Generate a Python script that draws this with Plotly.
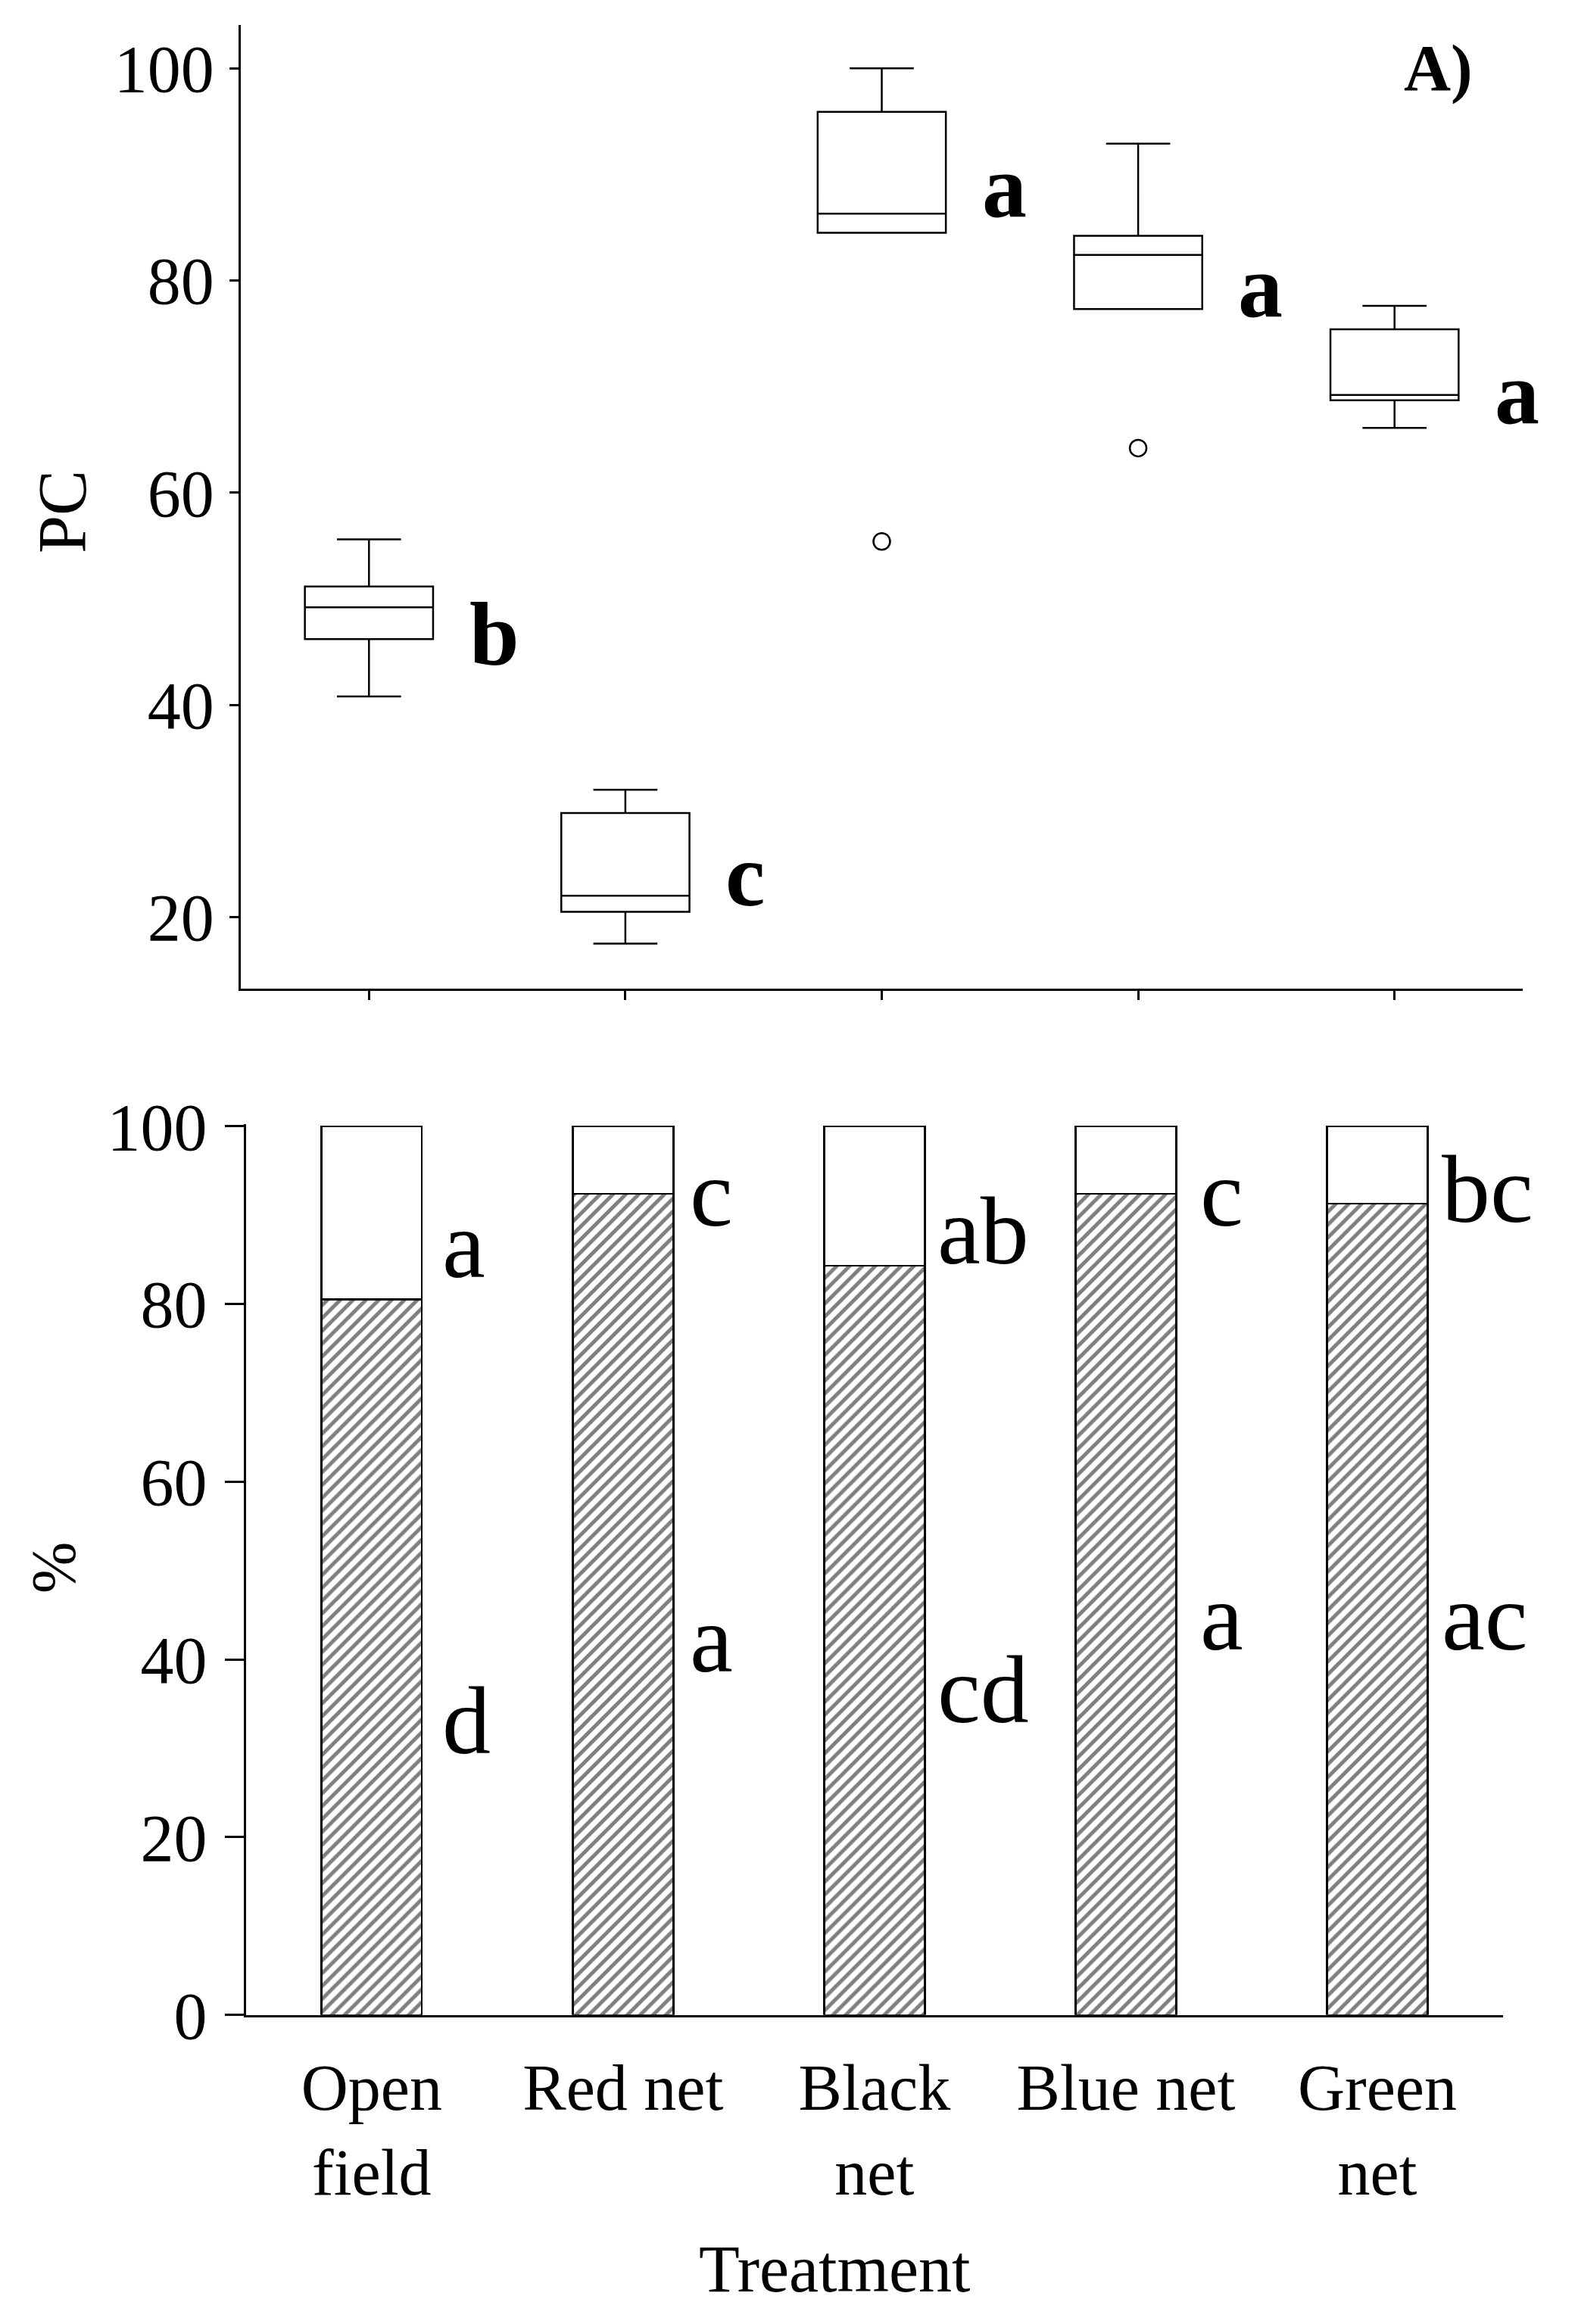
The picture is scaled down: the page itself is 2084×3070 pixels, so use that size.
import plotly.graph_objects as go

# ---- data ----
treatments = ["Open field", "Red net", "Black net", "Blue net", "Green net"]
tick_text = ["Open<br>field", "Red net", "Black<br>net", "Blue net", "Green<br>net"]

# panel A: PC box plots
pc_lower = [40.8, 17.5, 84.5, 77.3, 66.1]
pc_q1 = [46.2, 20.5, 84.5, 77.3, 68.7]
pc_median = [49.2, 22.0, 86.3, 82.4, 69.2]
pc_q3 = [51.15, 29.8, 95.9, 84.2, 75.4]
pc_upper = [55.6, 32.0, 100.0, 92.9, 77.6]
outlier_x = ["Black net", "Blue net"]
outlier_y = [55.4, 64.2]
letters_a = ["b", "c", "a", "a", "a"]

# panel B: stacked percentages (hatched part + open part)
pct_hatched = [80.5, 92.4, 84.3, 92.4, 91.3]
pct_open = [100 - v for v in pct_hatched]
letters_b_open = ["a", "c", "ab", "c", "bc"]
letters_b_hatched = ["d", "a", "cd", "a", "ac"]

# label placement (layout only)
letter_a_y = [46.7, 23.9, 88.85, 79.45, 69.35]
letter_b_open_y = [86.7, 92.5, 88.2, 92.5, 92.9]
letter_b_hatched_y = [33.1, 42.3, 36.6, 44.75, 44.75]
letter_b_dx = [0.275, 0.26, 0.245, 0.29, 0.25]

FONT = "Liberation Serif, Times New Roman, serif"
W, H = 2084, 3070
OFF = 8  # page body margin
LW = 2.5


def px(x):
    return (x - OFF) / W


def py(y):
    return 1 - (y - OFF) / H


fig = go.Figure()

fig.add_trace(go.Box(
    x=treatments, q1=pc_q1, median=pc_median, q3=pc_q3,
    lowerfence=pc_lower, upperfence=pc_upper,
    boxpoints=False, width=0.5, whiskerwidth=0.5,
    fillcolor="white", line=dict(color="black", width=LW),
    xaxis="x", yaxis="y", showlegend=False,
))
fig.add_trace(go.Scatter(
    x=outlier_x, y=outlier_y, mode="markers",
    marker=dict(symbol="circle-open", size=22, color="black", line=dict(width=LW)),
    xaxis="x", yaxis="y", showlegend=False,
))

fig.add_trace(go.Bar(
    x=treatments, y=pct_hatched, width=0.4,
    marker=dict(color="white", line=dict(color="black", width=LW),
                pattern=dict(shape="/", fgcolor="black", bgcolor="white", size=12, solidity=0.42)),
    xaxis="x2", yaxis="y2", showlegend=False,
))
fig.add_trace(go.Bar(
    x=treatments, y=pct_open, width=0.4,
    marker=dict(color="white", line=dict(color="black", width=LW)),
    xaxis="x2", yaxis="y2", showlegend=False,
))

ann = []
for i, t in enumerate(letters_a):
    ann.append(dict(x=i + 0.385, y=letter_a_y[i], xref="x", yref="y", text=t,
                    xanchor="left", yanchor="middle", showarrow=False,
                    font=dict(family=FONT, size=118, color="black", weight="bold")))
for i, t in enumerate(letters_b_open):
    ann.append(dict(x=i + letter_b_dx[i], y=letter_b_open_y[i], xref="x2", yref="y2", text=t,
                    xanchor="left", yanchor="middle", showarrow=False,
                    font=dict(family=FONT, size=128, color="black")))
for i, t in enumerate(letters_b_hatched):
    ann.append(dict(x=i + letter_b_dx[i], y=letter_b_hatched_y[i], xref="x2", yref="y2", text=t,
                    xanchor="left", yanchor="middle", showarrow=False,
                    font=dict(family=FONT, size=128, color="black")))

ann += [
    dict(x=4.17, y=100, xref="x", yref="y", text="A)", showarrow=False,
         xanchor="center", yanchor="middle", font=dict(family=FONT, size=86, color="black", weight="bold")),
    dict(x=4.41, y=100.4, xref="x2", yref="y2", text="B)", showarrow=False,
         xanchor="center", yanchor="middle", font=dict(family=FONT, size=84, color="black")),
    dict(x=px(82), y=py(676), xref="paper", yref="paper", text="PC", textangle=-90,
         showarrow=False, xanchor="center", yanchor="middle", font=dict(family=FONT, size=90, color="black")),
    dict(x=px(70), y=py(2071), xref="paper", yref="paper", text="%", textangle=-90,
         showarrow=False, xanchor="center", yanchor="middle", font=dict(family=FONT, size=82, color="black")),
    dict(x=px(1102), y=py(2997), xref="paper", yref="paper", text="Treatment",
         showarrow=False, xanchor="center", yanchor="middle", font=dict(family=FONT, size=88, color="black")),
]

axis_common = dict(showgrid=False, zeroline=False, showline=True, linecolor="black",
                   linewidth=LW, ticks="outside", tickcolor="black", tickwidth=LW,
                   automargin=False, tickfont=dict(family=FONT, size=88, color="black"))

fig.update_layout(
    width=W, height=H, margin=dict(l=0, r=0, t=0, b=0, autoexpand=False),
    paper_bgcolor="white", plot_bgcolor="white",
    barmode="stack", showlegend=False, annotations=ann,
    xaxis=dict(axis_common, domain=[px(318), px(2011)], anchor="y", type="category",
               categoryorder="array", categoryarray=treatments, range=[-0.5, 4.5],
               showticklabels=False, ticklen=12),
    yaxis=dict(axis_common, domain=[py(1306), py(32.7)], anchor="x",
               range=[13.25, 104.1], tickvals=[20, 40, 60, 80, 100], ticklen=12,
               ticklabelstandoff=3),
    xaxis2=dict(axis_common, domain=[px(324.8), px(1985)], anchor="y2", type="category",
                categoryorder="array", categoryarray=treatments, range=[-0.5, 4.5],
                tickvals=treatments, ticktext=tick_text, ticks="", ticklabelstandoff=19,
                tickfont=dict(family=FONT, size=86, color="black")),
    yaxis2=dict(axis_common, domain=[py(2661.8), py(1485.4)], anchor="x2",
                range=[0, 100.2], tickvals=[0, 20, 40, 60, 80, 100], ticklen=25,
                ticklabelstandoff=6),
)

fig.write_html("out.html")
